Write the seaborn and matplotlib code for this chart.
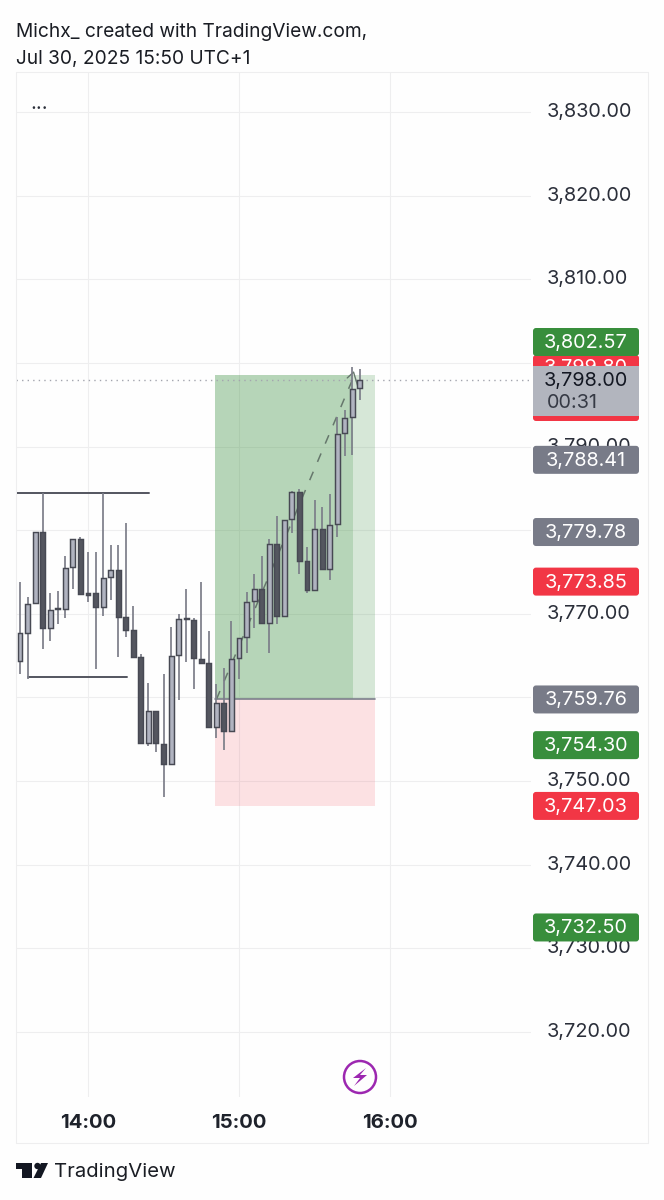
import matplotlib
matplotlib.use("Agg")
import matplotlib.pyplot as plt
from matplotlib.patches import FancyBboxPatch, Polygon, Circle, Rectangle
from matplotlib.transforms import ScaledTranslation
import numpy as np
import pandas as pd
import seaborn as sns

# ---------- data ----------
minutes = [-27 + 3 * i for i in range(46)]  # minutes relative to 14:00, 3-minute bars
opens = [3764.40, 3767.67, 3771.26, 3779.83, 3768.27, 3770.54, 3770.62, 3775.60, 3778.95, 3772.45,
         3772.45, 3770.86, 3774.37, 3775.24, 3769.58, 3768.03, 3764.84, 3754.60, 3758.42, 3754.44,
         3752.01, 3765.04, 3769.54, 3769.30, 3764.60, 3764.08, 3756.51, 3759.29, 3756.02, 3764.71,
         3767.18, 3771.49, 3772.96, 3768.90, 3778.34, 3769.69, 3781.29, 3784.60, 3776.35, 3772.84,
         3780.14, 3775.39, 3780.74, 3791.66, 3793.49, 3797.00]
highs = [3773.85, 3772.05, 3779.83, 3784.41, 3772.45, 3772.73, 3776.96, 3778.95, 3779.23, 3777.40,
         3777.44, 3784.41, 3778.27, 3778.27, 3780.82, 3770.98, 3765.20, 3761.77, 3758.42, 3762.81,
         3768.47, 3769.98, 3772.97, 3769.54, 3773.85, 3767.91, 3761.61, 3763.48, 3769.18, 3767.06,
         3772.60, 3774.72, 3776.91, 3778.98, 3781.73, 3781.17, 3784.64, 3784.96, 3777.94, 3783.60,
         3782.73, 3784.28, 3793.57, 3794.37, 3799.55, 3799.23]
lows = [3762.81, 3762.17, 3771.26, 3765.80, 3766.79, 3768.75, 3769.46, 3773.01, 3772.33, 3771.46,
        3763.37, 3769.74, 3771.66, 3764.88, 3767.27, 3764.84, 3754.60, 3754.20, 3753.52, 3748.14,
        3752.01, 3759.70, 3764.28, 3761.05, 3764.12, 3756.51, 3755.12, 3753.72, 3756.02, 3762.16,
        3765.27, 3768.34, 3768.90, 3765.35, 3768.74, 3769.69, 3779.70, 3774.72, 3772.44, 3772.84,
        3775.39, 3774.04, 3779.18, 3788.87, 3788.99, 3795.56]
closes = [3767.67, 3771.18, 3779.83, 3768.27, 3770.46, 3770.66, 3775.52, 3778.95, 3772.33, 3772.29,
          3770.86, 3774.29, 3775.24, 3769.66, 3768.07, 3764.84, 3754.60, 3758.42, 3754.52, 3752.05,
          3764.96, 3769.42, 3769.42, 3764.68, 3764.12, 3756.51, 3759.29, 3756.02, 3764.63, 3767.06,
          3771.37, 3772.96, 3768.90, 3778.34, 3769.69, 3781.17, 3784.60, 3776.35, 3772.84, 3780.14,
          3775.39, 3780.62, 3791.54, 3793.45, 3796.92, 3797.91]

y_ticks = [3720, 3730, 3740, 3750, 3760, 3770, 3780, 3790, 3800, 3810, 3820, 3830]
x_ticks = [0, 60, 120]
x_labels = ["14:00", "15:00", "16:00"]

badge_green = [3802.57, 3754.30, 3732.50]
badge_red = [3773.85, 3747.03]
badge_gray = [3788.41, 3779.78, 3759.76]
hidden_red = 3799.80
last_price = 3798.00
countdown = "00:31"

entry, target, stop = 3759.76, 3798.55, 3747.03
zone_start, zone_now, zone_end = 50.5, 105.3, 114.0
top_line = (-28.6, 24.2, 3784.41)
bottom_line = (-24.0, 15.3, 3762.40)
path_t = [51, 105.5]
path_p = [3759.76, 3798.30]

# ---------- layout ----------
sns.set_theme(style="white")
plt.rcParams["font.family"] = ["Inter", "Liberation Sans", "DejaVu Sans"]
W, H = 664, 1200
L, R, T, B = 16, 531, 72, 1097
PRICE_FS = 14.3
fig = plt.figure(figsize=(W / 100, H / 100), dpi=100, facecolor="#fefefe")
ax = fig.add_axes([L / W, 1 - B / H, (R - L) / W, (B - T) / H], facecolor="#fefefe")
ax.set_xlim(-28.6, 176.0)
ax.set_ylim(3712.23, 3834.78)
ax.set_axisbelow(True)
for s in ax.spines.values():
    s.set_visible(False)
ax.grid(True, color="#eeeeef", lw=0.75)
ax.yaxis.tick_right()
ax.set_yticks(y_ticks, [f"{v:,.2f}" for v in y_ticks])
ax.set_xticks(x_ticks, x_labels)
ax.tick_params(axis="y", length=0, pad=11.0, labelsize=PRICE_FS, labelcolor="#2a2e39")
ax.tick_params(axis="x", length=0, pad=12.0, labelsize=14.6, labelcolor="#1e222b")
for t in ax.get_xticklabels():
    t.set_fontweight("bold")
lift = ScaledTranslation(0, 0.02, fig.dpi_scale_trans)
for t in ax.get_yticklabels():
    t.set_va("center_baseline")
    t.set_transform(t.get_transform() + lift)

# position tool
ax.fill_between([zone_start, zone_now], entry, target, color="#388e3c", alpha=0.36, lw=0, zorder=1.2)
ax.fill_between([zone_now, zone_end], entry, target, color="#388e3c", alpha=0.20, lw=0, zorder=1.2)
ax.fill_between([zone_start, zone_end], stop, entry, color="#f23645", alpha=0.14, lw=0, zorder=1.2)
ax.plot([zone_start, zone_end], [entry, entry], color="#7d7f8c", lw=1.2, zorder=1.5)

# last price
ax.axhline(last_price, color="#a3a5ae", lw=1.0, ls=(0, (1, 3)), zorder=1.6)

# dashed path
path = pd.DataFrame({"t": path_t, "p": path_p})
sns.lineplot(data=path, x="t", y="p", ax=ax, color="#66776c", lw=1.1, zorder=1.8,
             linestyle=(0, (6, 7)), legend=False)
ax.plot([path_t[1] - 2.5, path_t[1], path_t[1] + 1.8],
        [path_p[1] - 0.1, path_p[1] + 0.6, path_p[1] - 1.2], color="#66776c", lw=1.0, zorder=1.8)
ax.set_xlabel("")
ax.set_ylabel("")

# range lines
ax.plot(top_line[:2], [top_line[2]] * 2, color="#53555f", lw=1.4, zorder=2.1)
ax.plot(bottom_line[:2], [bottom_line[2]] * 2, color="#53555f", lw=1.4, zorder=2.1)

# candles
df = pd.DataFrame({"t": minutes, "o": opens, "h": highs, "l": lows, "c": closes})
df["up"] = df.c >= df.o
ax.vlines(df.t, df.l, df.h, color="#7c7e89", lw=1.25, zorder=2.2)
ax.bar(df.t, (df.c - df.o).abs().clip(lower=0.12), bottom=df[["o", "c"]].min(axis=1), width=1.95,
       color=np.where(df.up, "#b0b3c0", "#54565f"), edgecolor="#474953", lw=1.05, zorder=2.3)

# overlay in pixels
ov = fig.add_axes([0, 0, 1, 1], facecolor="none", zorder=5)
ov.set_xlim(0, W)
ov.set_ylim(H, 0)
ov.axis("off")
fig.canvas.draw()


def py(price):
    return H - ax.transData.transform((0, price))[1]


def box(y0, y1, color, z=3, x0=533, x1=639):
    ov.add_patch(FancyBboxPatch((x0 + 2, y0 + 2), x1 - x0 - 4, y1 - y0 - 4,
                                boxstyle="round,pad=2,rounding_size=3", fc=color, ec="none", zorder=z))


def badge(price, color, txt="#ffffff", z=3):
    y = py(price)
    box(y - 14, y + 14, color, z)
    ov.text(586, y - 1, f"{price:,.2f}", ha="center", va="center_baseline", color=txt, fontsize=PRICE_FS, zorder=z + .1)


# frame
for xs, ys in [((L, L), (T, 1143)), ((L, 648), (T, T)), ((648, 648), (T, 1143)), ((L, 648), (1143, 1143))]:
    ov.plot(xs, ys, color="#eeeeef", lw=0.75, zorder=1)

for p in badge_gray:
    badge(p, "#787b88")
for p in badge_red:
    badge(p, "#f23645")
for p in badge_green[1:]:
    badge(p, "#388e3c")

# stacked labels around the last price
box(355, 421, "#f23645", 3)
ov.text(586, py(hidden_red) + 1, f"{hidden_red:,.2f}", ha="center", va="center_baseline", color="white",
        fontsize=PRICE_FS, zorder=3.1)
box(328, 356, "#388e3c", 3.4)
ov.text(586, py(badge_green[0]), f"{badge_green[0]:,.2f}", ha="center", va="center_baseline", color="white",
        fontsize=PRICE_FS, zorder=3.5)
ov.add_patch(Rectangle((533, 366), 106, 50, fc="#b2b5be", ec="none", zorder=3.6))
ov.text(586, py(last_price) - 1, f"{last_price:,.2f}", ha="center", va="center_baseline", color="#131722",
        fontsize=PRICE_FS, zorder=3.7)
ov.text(547, 401, countdown, ha="left", va="center_baseline", color="#363a45", fontsize=PRICE_FS, zorder=3.7)

# header
ov.text(16, 30, "Michx_ created with TradingView.com,", fontsize=13.8, color="#1a1d24", va="center_baseline")
ov.text(16, 57, "Jul 30, 2025 15:50 UTC+1", fontsize=13.8, color="#1a1d24", va="center_baseline")
ov.text(30, 102, "...", fontsize=14.5, color="#2a2e39", va="center_baseline")

# lightning icon
ov.add_patch(Circle((360, 1077), 16, fc="#fefefe", ec="#9c27b0", lw=1.8, zorder=4))
ov.add_patch(Polygon([(366, 1068), (353, 1078), (360, 1078), (354, 1086), (367, 1075), (360, 1075)],
                     closed=True, fc="#9c27b0", ec="none", zorder=4.1))

# logo
ov.add_patch(Polygon([(16, 1163), (32, 1163), (32, 1178), (22, 1178), (22, 1169), (16, 1169)],
                     closed=True, fc="#131722", ec="none"))
ov.add_patch(Circle((37.5, 1166), 3.2, fc="#131722", ec="none"))
ov.add_patch(Polygon([(41, 1163), (48, 1163), (41, 1178), (33.5, 1178)], closed=True, fc="#131722", ec="none"))
ov.text(54, 1170, "TradingView", fontsize=14.6, color="#1a1d24", va="center_baseline")

fig.savefig("out.png", dpi=100, facecolor=fig.get_facecolor())
